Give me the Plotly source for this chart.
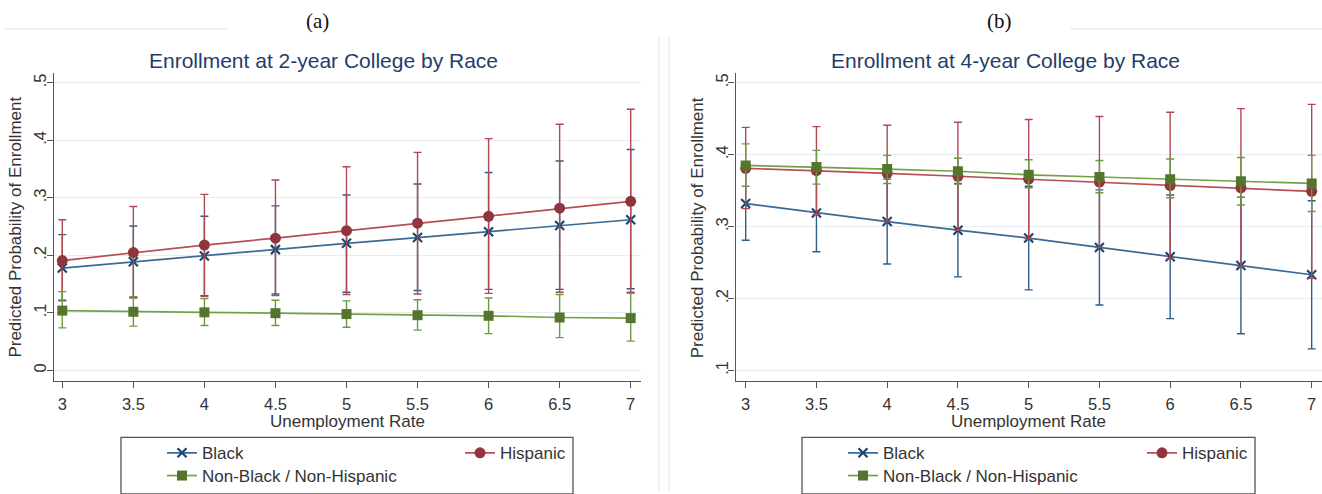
import plotly.graph_objects as go

# ---------------- data ----------------
unemp = [3, 3.5, 4, 4.5, 5, 5.5, 6, 6.5, 7]
x_tick_labels = ["3", "3.5", "4", "4.5", "5", "5.5", "6", "6.5", "7"]

# (a) 2-year college
black2 = [0.178, 0.189, 0.199, 0.210, 0.221, 0.231, 0.241, 0.252, 0.262]
black2_hi = [0.236, 0.251, 0.268, 0.286, 0.305, 0.324, 0.344, 0.364, 0.384]
black2_lo = [0.122, 0.127, 0.130, 0.133, 0.136, 0.139, 0.141, 0.141, 0.142]
hisp2 = [0.191, 0.205, 0.218, 0.230, 0.243, 0.256, 0.268, 0.282, 0.294]
hisp2_hi = [0.262, 0.285, 0.306, 0.331, 0.354, 0.379, 0.403, 0.428, 0.454]
hisp2_lo = [0.121, 0.126, 0.129, 0.130, 0.132, 0.133, 0.134, 0.136, 0.136]
other2 = [0.104, 0.102, 0.101, 0.0995, 0.098, 0.096, 0.095, 0.092, 0.091]
other2_hi = [0.137, 0.128, 0.125, 0.122, 0.121, 0.123, 0.126, 0.132, 0.134]
other2_lo = [0.074, 0.077, 0.078, 0.078, 0.075, 0.070, 0.064, 0.057, 0.051]
y2_ticks = [0, 0.1, 0.2, 0.3, 0.4, 0.5]
y2_labels = ["0", ".1", ".2", ".3", ".4", ".5"]

# (b) 4-year college
black4 = [0.332, 0.319, 0.307, 0.295, 0.284, 0.271, 0.258, 0.246, 0.233]
black4_hi = [0.383, 0.373, 0.366, 0.360, 0.356, 0.351, 0.344, 0.341, 0.336]
black4_lo = [0.281, 0.265, 0.248, 0.230, 0.212, 0.191, 0.172, 0.151, 0.130]
hisp4 = [0.381, 0.378, 0.374, 0.370, 0.366, 0.362, 0.357, 0.354, 0.349]
hisp4_hi = [0.438, 0.439, 0.441, 0.445, 0.449, 0.453, 0.459, 0.464, 0.470]
hisp4_lo = [0.325, 0.317, 0.307, 0.295, 0.283, 0.271, 0.255, 0.244, 0.228]
other4 = [0.385, 0.383, 0.380, 0.377, 0.372, 0.369, 0.366, 0.363, 0.360]
other4_hi = [0.415, 0.406, 0.399, 0.395, 0.393, 0.392, 0.394, 0.396, 0.399]
other4_lo = [0.356, 0.359, 0.360, 0.359, 0.354, 0.347, 0.340, 0.330, 0.321]
y4_ticks = [0.1, 0.2, 0.3, 0.4, 0.5]
y4_labels = [".1", ".2", ".3", ".4", ".5"]

series_names = ["Black", "Hispanic", "Non-Black / Non-Hispanic"]
panel_titles = ["Enrollment at 2-year College by Race", "Enrollment at 4-year College by Race"]
panel_tags = ["(a)", "(b)"]
x_title = "Unemployment Rate"
y_title = "Predicted Probability of Enrollment"

# ---------------- styling ----------------
W, H = 1322, 494
FONT = "Liberation Sans, Arial, sans-serif"
TXT = "#333333"
AXC = "#555555"
GRID = "#e6eef1"

styles = [
    dict(line="#3b6a95", err="#2e5d88", mk="#1a476f", symbol="x-thin", size=9, mline=2.2),
    dict(line="#b94e59", err="#b04853", mk="#90353b", symbol="circle", size=11, mline=0),
    dict(line="#76a046", err="#6c9a3e", mk="#55752f", symbol="square", size=10, mline=0),
]


def px_x(p):
    return p / W


def px_y(p):
    return 1 - p / H


fig = go.Figure()

panels = [
    dict(xa="x", ya="y", data=[(black2, black2_hi, black2_lo), (hisp2, hisp2_hi, hisp2_lo),
                                (other2, other2_hi, other2_lo)], legends=["legend", "legend2", "legend3"]),
    dict(xa="x2", ya="y2", data=[(black4, black4_hi, black4_lo), (hisp4, hisp4_hi, hisp4_lo),
                                  (other4, other4_hi, other4_lo)], legends=["legend4", "legend5", "legend6"]),
]

for p in panels:
    for i, (vals, hi, lo) in enumerate(p["data"]):
        st = styles[i]
        fig.add_trace(go.Scatter(
            x=unemp, y=vals, xaxis=p["xa"], yaxis=p["ya"],
            mode="lines+markers", name=series_names[i], legend=p["legends"][i],
            line=dict(color=st["line"], width=1.7),
            marker=dict(symbol=st["symbol"], size=st["size"], color=st["mk"],
                        line=dict(color=st["mk"], width=st["mline"])),
            error_y=dict(type="data", symmetric=False,
                         array=[h - v for h, v in zip(hi, vals)],
                         arrayminus=[v - l for v, l in zip(vals, lo)],
                         color=st["err"], thickness=1.4, width=4),
        ))

# axes
ax_common = dict(showline=True, linecolor=AXC, linewidth=1.3, ticks="outside", ticklen=6,
                 tickcolor=AXC, tickwidth=1.2, tickfont=dict(family=FONT, size=16.5, color=TXT),
                 zeroline=False)
fig.update_layout(
    xaxis=dict(domain=[px_x(54), px_x(641)], range=[2.9416, 7.0725], anchor="y",
               tickvals=unemp, ticktext=x_tick_labels, showgrid=False, ticklabelstandoff=2,
               **ax_common),
    yaxis=dict(domain=[px_y(383.3), px_y(73.3)], range=[-0.0183, 0.5173], anchor="x",
               tickvals=y2_ticks, ticktext=y2_labels, tickangle=-90, showgrid=True,
               gridcolor=GRID, gridwidth=1.2, ticklabelstandoff=-6, **ax_common),
    xaxis2=dict(domain=[px_x(735.5), 1.0], range=[2.928, 7.073], anchor="y2",
                tickvals=unemp, ticktext=x_tick_labels, showgrid=False, ticklabelstandoff=2,
                **ax_common),
    yaxis2=dict(domain=[px_y(383.3), px_y(73.3)], range=[0.0853, 0.5138], anchor="x2",
                tickvals=y4_ticks, ticktext=y4_labels, tickangle=-90, showgrid=True,
                gridcolor=GRID, gridwidth=1.2, ticklabelstandoff=-6, **ax_common),
)

# legends (one per entry, arranged as Stata's two-column legend)
leg_font = dict(family=FONT, size=17, color=TXT)
leg_pos = {
    "legend": (162, 456), "legend2": (460, 456), "legend3": (162, 479),
    "legend4": (843, 456), "legend5": (1142, 456), "legend6": (843, 479),
}
leg_layout = {}
for k, (lx, ly) in leg_pos.items():
    leg_layout[k] = dict(x=px_x(lx), y=px_y(ly), xanchor="left", yanchor="middle",
                         bgcolor="rgba(0,0,0,0)", borderwidth=0, font=leg_font,
                         orientation="h")
fig.update_layout(**leg_layout)

# annotations
ann = []
title_x = [323.7, 1005]
tag_x = [317, 999]
xt_x = [347, 1028]
yt_x = [16, 697.7]
for j in range(2):
    ann.append(dict(text=panel_tags[j], x=px_x(tag_x[j]), y=px_y(21), xref="paper", yref="paper",
                    xanchor="center", yanchor="middle", showarrow=False,
                    font=dict(family="Liberation Serif, Times New Roman, serif",
                              size=21, color="#111111")))
    ann.append(dict(text=panel_titles[j], x=px_x(title_x[j]), y=px_y(61), xref="paper",
                    yref="paper", xanchor="center", yanchor="middle", showarrow=False,
                    font=dict(family=FONT, size=21, color="#1f3d6b")))
    ann.append(dict(text=x_title, x=px_x(xt_x[j]), y=px_y(424), xref="paper", yref="paper",
                    xanchor="center", yanchor="middle", showarrow=False,
                    font=dict(family=FONT, size=17, color=TXT)))
    ann.append(dict(text=y_title, x=px_x(yt_x[j]), y=px_y(229), xref="paper", yref="paper",
                    xanchor="center", yanchor="middle", showarrow=False, textangle=-90,
                    font=dict(family=FONT, size=17, color=TXT)))
fig.update_layout(annotations=ann)

# decorative frames and legend boxes
shapes = [
    dict(type="rect", xref="paper", yref="paper", x0=px_x(121), x1=px_x(573), y0=px_y(440),
         y1=px_y(497), line=dict(color="#555555", width=1.3)),
    dict(type="rect", xref="paper", yref="paper", x0=px_x(802), x1=px_x(1255), y0=px_y(440),
         y1=px_y(497), line=dict(color="#555555", width=1.3)),
    dict(type="line", xref="paper", yref="paper", x0=px_x(659), x1=px_x(659), y0=px_y(37),
         y1=0, line=dict(color="#eeeeee", width=1.5)),
    dict(type="line", xref="paper", yref="paper", x0=px_x(669), x1=px_x(669), y0=px_y(37),
         y1=0, line=dict(color="#eeeeee", width=1.5)),
    dict(type="line", xref="paper", yref="paper", x0=px_x(5), x1=px_x(227), y0=px_y(29),
         y1=px_y(29), line=dict(color="#eeeeee", width=1.5)),
    dict(type="line", xref="paper", yref="paper", x0=px_x(1070), x1=1, y0=px_y(29),
         y1=px_y(29), line=dict(color="#eeeeee", width=1.5)),
]
fig.update_layout(shapes=shapes)

fig.update_layout(width=W, height=H, autosize=False, margin=dict(l=0, r=0, t=0, b=0),
                  paper_bgcolor="white", plot_bgcolor="white",
                  font=dict(family=FONT, size=16, color=TXT), showlegend=True)

fig.write_html("out.html", config={"displayModeBar": False})
